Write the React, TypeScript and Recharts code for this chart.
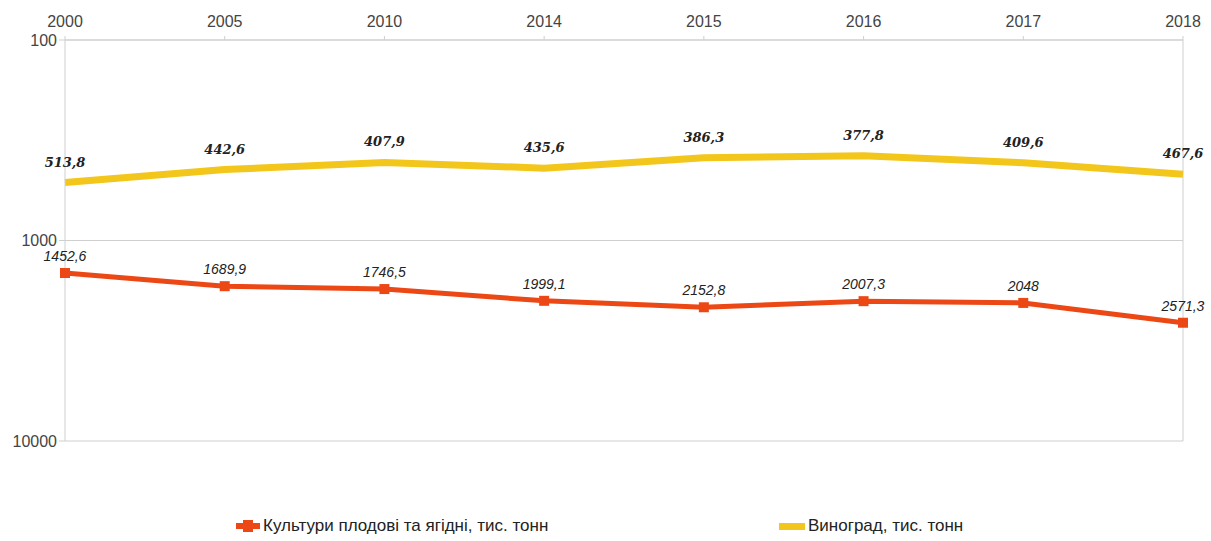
import {
  LineChart,
  Line,
  XAxis,
  YAxis,
  CartesianGrid,
  ReferenceLine,
  LabelList,
} from "recharts";

const years = ["2000", "2005", "2010", "2014", "2015", "2016", "2017", "2018"];
const fruits = [1452.6, 1689.9, 1746.5, 1999.1, 2152.8, 2007.3, 2048, 2571.3];
const grapes = [513.8, 442.6, 407.9, 435.6, 386.3, 377.8, 409.6, 467.6];
const yTicks = [100, 1000, 10000];

const RED = "#ec4815";
const YELLOW = "#f3c61c";
const GRID = "#cfcfcf";
const AXIS_FONT = "'Liberation Sans', Arial, sans-serif";

const data = years.map((y, i) => ({ year: y, fruits: fruits[i], grapes: grapes[i] }));

const fmt = (v: number) => String(v).replace(".", ",");

function SquareDot(props: any) {
  const { cx, cy } = props;
  if (cx == null || cy == null) return null;
  return <rect x={cx - 5} y={cy - 5} width={10} height={10} fill={RED} />;
}

function FruitLabel(props: any) {
  const { x, y, value } = props;
  return (
    <text
      x={x}
      y={y - 12}
      textAnchor="middle"
      fontFamily={AXIS_FONT}
      fontStyle="italic"
      fontSize={14}
      fill="#222"
    >
      {fmt(value)}
    </text>
  );
}

function GrapeLabel(props: any) {
  const { x, y, value } = props;
  return (
    <text
      x={x}
      y={y - 16}
      textAnchor="middle"
      fontFamily="'DejaVu Serif', 'Liberation Serif', serif"
      fontStyle="italic"
      fontWeight="bold"
      fontSize={13}
      fill="#222"
    >
      {fmt(value)}
    </text>
  );
}

export default function App() {
  return (
    <div style={{ position: "absolute", left: 0, top: 0, width: 1211, height: 541, background: "#fff" }}>
      <LineChart
        width={1211}
        height={541}
        data={data}
        margin={{ top: 0, right: 28, bottom: 100, left: 0 }}
      >
        <CartesianGrid stroke={GRID} vertical={false} />
        <XAxis
          dataKey="year"
          orientation="top"
          height={40}
          padding={{ left: 0, right: 0 }}
          tick={{ fill: "#444", fontSize: 16, fontFamily: AXIS_FONT, dy: -7 }}
          tickSize={4}
          tickLine={{ stroke: GRID }}
          axisLine={{ stroke: GRID }}
          interval={0}
        />
        <YAxis
          scale="log"
          domain={[100, 10000]}
          ticks={yTicks}
          reversed
          allowDataOverflow
          width={65}
          tick={{ fill: "#444", fontSize: 16, fontFamily: AXIS_FONT }}
          tickSize={6}
          tickLine={{ stroke: GRID }}
          axisLine={{ stroke: GRID }}
        />
        <ReferenceLine x="2018" stroke={GRID} />
        <Line
          dataKey="grapes"
          stroke={YELLOW}
          strokeWidth={7}
          dot={false}
          activeDot={false}
          isAnimationActive={false}
        >
          <LabelList dataKey="grapes" content={<GrapeLabel />} />
        </Line>
        <Line
          dataKey="fruits"
          stroke={RED}
          strokeWidth={5}
          dot={<SquareDot />}
          activeDot={false}
          isAnimationActive={false}
        >
          <LabelList dataKey="fruits" content={<FruitLabel />} />
        </Line>
      </LineChart>
      <div
        style={{
          position: "absolute",
          top: 516,
          left: 0,
          width: 1211,
          fontFamily: AXIS_FONT,
          fontSize: 17,
          color: "#222",
        }}
      >
        <div style={{ position: "absolute", left: 236, display: "flex", alignItems: "center" }}>
          <span style={{ display: "inline-block", width: 24, height: 6, background: RED, marginRight: 3, position: "relative" }}>
            <span style={{ position: "absolute", left: 7, top: -3, width: 10, height: 12, background: RED }} />
          </span>
          Культури плодові та ягідні, тис. тонн
        </div>
        <div style={{ position: "absolute", left: 779, display: "flex", alignItems: "center" }}>
          <span style={{ display: "inline-block", width: 26, height: 7, background: YELLOW, marginRight: 3 }} />
          Виноград, тис. тонн
        </div>
      </div>
    </div>
  );
}
